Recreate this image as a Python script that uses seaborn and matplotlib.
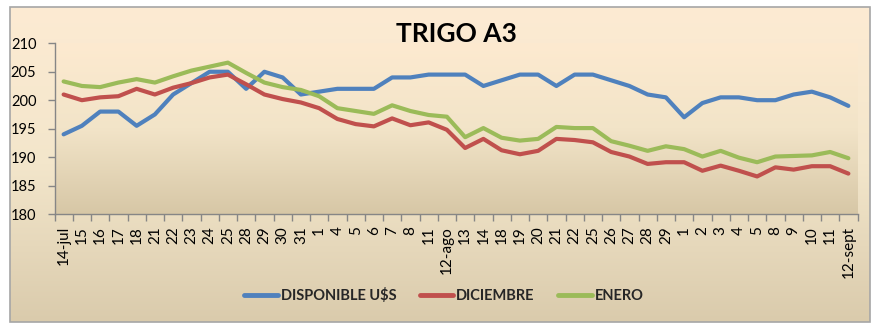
import numpy as np
import pandas as pd
import matplotlib
matplotlib.use("Agg")
import matplotlib.pyplot as plt
from matplotlib.colors import LinearSegmentedColormap
from matplotlib.patches import Rectangle
from matplotlib.ticker import FixedLocator, NullFormatter
import seaborn as sns

# Fechas de cotización (julio - septiembre)
fechas = ["14-jul", "15", "16", "17", "18", "21", "22", "23", "24", "25",
          "28", "29", "30", "31", "1", "4", "5", "6", "7", "8",
          "11", "12-ago", "13", "14", "18", "19", "20", "21", "22", "25",
          "26", "27", "28", "29", "1", "2", "3", "4", "5", "8",
          "9", "10", "11", "12-sept"]

disponible = [194, 195.5, 198, 198, 195.5, 197.5, 201, 203, 205, 205,
              202, 205, 204, 201, 201.5, 202, 202, 202, 204, 204,
              204.5, 204.5, 204.5, 202.5, 203.5, 204.5, 204.5, 202.5, 204.5, 204.5,
              203.5, 202.5, 201, 200.5, 197, 199.5, 200.5, 200.5, 200, 200,
              201, 201.5, 200.5, 199]

diciembre = [201, 200, 200.5, 200.7, 202, 201, 202.2, 203, 204, 204.5,
             202.8, 201, 200.2, 199.6, 198.6, 196.7, 195.8, 195.4, 196.8, 195.6,
             196.1, 194.8, 191.6, 193.2, 191.2, 190.5, 191.1, 193.2, 193, 192.6,
             190.9, 190.1, 188.8, 189.1, 189.1, 187.6, 188.5, 187.6, 186.6, 188.2,
             187.8, 188.4, 188.4, 187.1]

enero = [203.3, 202.5, 202.3, 203.1, 203.7, 203.1, 204.2, 205.2, 205.9, 206.6,
         204.8, 203.1, 202.3, 201.8, 200.7, 198.6, 198.1, 197.6, 199.1, 198.1,
         197.4, 197.1, 193.5, 195.1, 193.4, 192.9, 193.2, 195.3, 195.1, 195.1,
         192.8, 192.0, 191.1, 191.9, 191.4, 190.1, 191.1, 189.9, 189.1, 190.1,
         190.2, 190.3, 190.9, 189.8]

series = ["DISPONIBLE U$S", "DICIEMBRE", "ENERO"]
colores = ["#4F81BD", "#C0504D", "#9BBB59"]
y_ticks = [180, 185, 190, 195, 200, 205, 210]

df = pd.DataFrame({
    "pos": np.tile(np.arange(len(fechas)), 3),
    "valor": disponible + diciembre + enero,
    "serie": np.repeat(series, len(fechas)),
})

sns.set_theme(style="white")
plt.rcParams["font.family"] = ["Lato", "DejaVu Sans"]

W, H = 877, 328
fig = plt.figure(figsize=(W / 100, H / 100), dpi=100, facecolor="white")

# Fondo del gráfico con degradado crema -> beige
bg = fig.add_axes([10 / W, 1 - 322 / H, 860 / W, 315 / H], zorder=-10)
bg_cmap = LinearSegmentedColormap.from_list("bg", ["#FDEBD3", "#F3E6CB", "#DACBAC"])
bg.imshow(np.linspace(0, 1, 256).reshape(-1, 1), cmap=bg_cmap, aspect="auto",
          extent=[0, 1, 0, 1], origin="upper")
bg.set_xlim(0, 1)
bg.set_ylim(0, 1)
bg.axis("off")
bg.add_patch(Rectangle((0, 0), 1, 1, transform=bg.transAxes, fill=False,
                       edgecolor="#A6A6A6", linewidth=1.2, clip_on=False))

ax = fig.add_axes([54.5 / W, 1 - 214 / H, (857.5 - 54.5) / W, (214 - 43.3) / H])
ax.patch.set_alpha(0)
area_cmap = LinearSegmentedColormap.from_list("area", ["#FDEAD0", "#F2E4C8", "#D7C7A6"])
ax.imshow(np.linspace(0, 1, 256).reshape(-1, 1), cmap=area_cmap, aspect="auto",
          extent=[0, 1, 0, 1], origin="upper", transform=ax.transAxes, zorder=0)

sns.lineplot(data=df, x="pos", y="valor", hue="serie", hue_order=series,
             palette=colores, linewidth=3, ax=ax, legend=False, zorder=3)

ax.set_xlim(-0.5, len(fechas) - 0.5)
ax.set_ylim(180, 210)
ax.set_yticks(y_ticks)
ax.set_yticklabels([str(v) for v in y_ticks])

# Etiquetas en cada fecha, marcas entre categorías
ax.set_xticks(np.arange(len(fechas)))
ax.set_xticklabels(fechas, rotation=90, va="top", ha="center")
ax.xaxis.set_minor_locator(FixedLocator(np.arange(-0.5, len(fechas), 1)))
ax.xaxis.set_minor_formatter(NullFormatter())
ax.tick_params(axis="x", which="major", length=0, pad=8.5, labelsize=11, colors="black")
ax.tick_params(axis="x", which="minor", length=5, width=1, color="#868686", bottom=True)
ax.tick_params(axis="y", length=5, width=1, color="#868686", pad=8, labelsize=10.5,
               labelcolor="black", left=True)

for side in ["top", "right"]:
    ax.spines[side].set_visible(False)
for side in ["left", "bottom"]:
    ax.spines[side].set_color("#868686")
    ax.spines[side].set_linewidth(1)
ax.set_xlabel("")
ax.set_ylabel("")
ax.grid(False)

fig.text(456 / W, 1 - 34 / H, "TRIGO A3", ha="center", va="center",
         fontsize=19, fontweight="bold", color="black")

handles = [plt.Line2D([], [], color=c, linewidth=3.5) for c in colores]
leg = fig.legend(handles, series, loc="center", bbox_to_anchor=(444 / W, 1 - 296 / H),
                 ncol=3, frameon=False, handlelength=2.3, handletextpad=0.2,
                 columnspacing=1.6, prop={"weight": "bold", "size": 10.5})

fig.savefig("out.png", dpi=100, facecolor="white")
